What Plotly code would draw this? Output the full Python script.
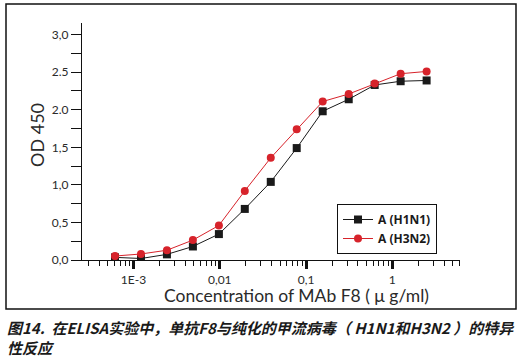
import plotly.graph_objects as go

# ---- data ----
conc = [0.00061, 0.00122, 0.00244, 0.00488, 0.00977, 0.0195, 0.039,
        0.078, 0.156, 0.3125, 0.625, 1.25, 2.5]
od_h1n1 = [0.035, 0.02, 0.075, 0.18, 0.345, 0.68, 1.04, 1.49, 1.98, 2.14, 2.33, 2.38, 2.39]
od_h3n2 = [0.053, 0.08, 0.13, 0.265, 0.46, 0.92, 1.36, 1.74, 2.11, 2.21, 2.35, 2.48, 2.51]
series_names = ["A (H1N1)", "A (H3N2)"]
y_tickvals = [0, 0.5, 1.0, 1.5, 2.0, 2.5, 3.0]
y_ticktext = ["0,0", "0,5", "1,0", "1,5", "2.0", "2.5", "3,0"]
x_tickvals = [0.001, 0.01, 0.1, 1]
x_ticktext = ["1E-3", "0,01", "0,1", "1"]
x_title = "Concentration of MAb F8 ( μ g/ml)"
y_title = "OD 450"
caption1 = "图14.&nbsp;&nbsp;在ELISA实验中，单抗F8与纯化的甲流病毒（ H1N1和H3N2 ）的特异"
caption2 = "性反应"

# ---- layout geometry (pixels) ----
W, H = 522, 357
L, R, T, B = 74, 460, 23, 260   # plot area in pixels
def px(x):
    return (x - L) / (R - L)
def py(y):
    return (B - y) / (B - T)

minor_vals = [k * 10 ** e for e in range(-4, 1) for k in range(2, 10)]

LBL = "Lato, 'Open Sans', sans-serif"

fig = go.Figure()
fig.add_trace(go.Scatter(
    x=conc, y=od_h1n1, name=series_names[0], mode="lines+markers",
    line=dict(color="#1a1a1a", width=1),
    marker=dict(symbol="square", size=8, color="#1a1a1a")))
fig.add_trace(go.Scatter(
    x=conc, y=od_h3n2, name=series_names[1], mode="lines+markers",
    line=dict(color="#d7232b", width=1),
    marker=dict(symbol="circle", size=8, color="#d7232b")))

fig.update_layout(
    width=W, height=H,
    margin=dict(l=L, r=W - R, t=T, b=H - B, pad=0),
    paper_bgcolor="white", plot_bgcolor="white",
    font=dict(family=LBL, color="#2a2a2a"),
    showlegend=True,
    legend=dict(
        x=px(337), y=py(204), xanchor="left", yanchor="top",
        bgcolor="white", bordercolor="#111", borderwidth=1,
        font=dict(size=12, family="'Open Sans', sans-serif", color="#1a1a1a", weight=700),
        tracegroupgap=0, itemwidth=30),
    xaxis=dict(
        type="log", range=[-3.69, 0.785],
        showline=True, linecolor="#111", linewidth=1.2,
        showgrid=False, zeroline=False,
        tickmode="array", tickvals=x_tickvals, ticktext=x_ticktext,
        ticks="outside", ticklen=8, tickwidth=3, tickcolor="#111",
        tickfont=dict(size=12, color="#2a2a2a"),
        minor=dict(tickmode="array", tickvals=minor_vals, ticks="outside",
                   ticklen=5, tickwidth=1, tickcolor="#111", showgrid=False),
    ),
    yaxis=dict(
        range=[0, 3.155], anchor="free", position=px(81),
        showline=True, linecolor="#111", linewidth=1.2,
        showgrid=False, zeroline=False,
        tickmode="array", tickvals=y_tickvals, ticktext=y_ticktext,
        ticks="outside", ticklen=10, tickwidth=1, tickcolor="#111",
        tickfont=dict(size=12, color="#2a2a2a"),
        minor=dict(dtick=0.25, ticks="outside", ticklen=10, tickwidth=1,
                   tickcolor="#111", showgrid=False),
    ),
)

# axis titles
fig.add_annotation(text=x_title, xref="paper", yref="paper",
                   x=px(296), y=py(295), xanchor="center", yanchor="middle",
                   showarrow=False, font=dict(size=17.5, color="#2a2a2a"))
fig.add_annotation(text=y_title, xref="paper", yref="paper", textangle=-90,
                   x=px(37), y=py(135), xanchor="center", yanchor="middle",
                   showarrow=False, font=dict(size=18, color="#2a2a2a"))

# outer frame
fig.add_shape(type="rect", xref="paper", yref="paper",
              x0=px(6), x1=px(516), y0=py(309), y1=py(4),
              line=dict(color="#111", width=1.5), fillcolor="rgba(0,0,0,0)")

# caption (two lines)
fig.add_annotation(text="<b><i>" + caption1 + "<br>" + caption2 + "</i></b>",
                   xref="paper", yref="paper",
                   x=px(6), y=py(337), xanchor="left", yanchor="middle",
                   align="left", showarrow=False, borderpad=0,
                   font=dict(size=15, family="'Noto Sans CJK SC', sans-serif",
                             color="#1a1a1a"))

fig.write_html("out.html", config={"displayModeBar": False},
               post_script="document.body.style.margin='0';")
